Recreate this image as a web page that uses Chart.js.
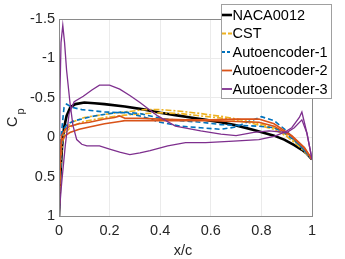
<!DOCTYPE html>
<html>
<head>
<meta charset="utf-8">
<script src="https://cdn.jsdelivr.net/npm/chart.js@4"></script>
<style>
  html, body { margin: 0; padding: 0; background: #fff; }
  #wrap { width: 345px; height: 259px; }
</style>
</head>
<body>
<div id="wrap"><canvas id="cpChart" width="345" height="259"></canvas></div>
<script>
// Cp distribution, values

const xTicks = [0, 0.2, 0.4, 0.6, 0.8, 1];
const xTickLabels = ['0', '0.2', '0.4', '0.6', '0.8', '1'];
const yTicks = [-1.5, -1, -0.5, 0, 0.5, 1];
const yTickLabels = ['-1.5', '-1', '-0.5', '0', '0.5', '1'];

const seriesNames = ['NACA0012', 'CST', 'Autoencoder-1', 'Autoencoder-2', 'Autoencoder-3'];

// NACA0012 (upper and lower coincide)
const nacaX  = [0, 0.005, 0.012, 0.02, 0.03, 0.045, 0.065, 0.1, 0.14, 0.18, 0.26, 0.34, 0.4, 0.46, 0.52, 0.58, 0.64, 0.7, 0.77, 0.85, 0.89, 0.93, 0.96, 0.98, 1];
const nacaCp = [1, 0.5, 0.12, -0.12, -0.27, -0.38, -0.42, -0.44, -0.43, -0.42, -0.39, -0.35, -0.31, -0.28, -0.25, -0.22, -0.19, -0.15, -0.09, -0.02, 0.03, 0.1, 0.16, 0.21, 0.28];

// CST
const cstX       = [0, 0.005, 0.012, 0.024, 0.05, 0.1, 0.18, 0.26, 0.34, 0.4, 0.48, 0.56, 0.65, 0.72, 0.77, 0.85, 0.9, 0.95, 1];
const cstCpUpper = [1, 0.4, 0.05, -0.1, -0.19, -0.25, -0.29, -0.32, -0.35, -0.35, -0.33, -0.3, -0.26, -0.22, -0.19, -0.12, -0.03, 0.1, 0.28];
const cstCpLower = [1, 0.4, 0.08, -0.05, -0.14, -0.2, -0.25, -0.28, -0.3, -0.31, -0.3, -0.27, -0.24, -0.2, -0.17, -0.1, -0.01, 0.12, 0.28];

// Autoencoder-1
const ae1XUpper  = [0, 0.008, 0.02, 0.03, 0.05, 0.09, 0.18, 0.26, 0.32, 0.4, 0.48, 0.56, 0.64, 0.7, 0.75, 0.8, 0.85, 0.9, 0.93, 0.96, 1];
const ae1CpUpper = [1, 0.0, -0.38, -0.42, -0.38, -0.35, -0.32, -0.31, -0.27, -0.19, -0.14, -0.12, -0.1, -0.13, -0.2, -0.26, -0.21, -0.08, 0.03, 0.13, 0.28];
const ae1XLower  = [0, 0.008, 0.016, 0.035, 0.063, 0.1, 0.14, 0.2, 0.25, 0.32, 0.4, 0.48, 0.56, 0.64, 0.7, 0.79, 0.85, 0.89, 0.93, 0.96, 1];
const ae1CpLower = [1, 0.2, -0.1, -0.17, -0.21, -0.24, -0.27, -0.3, -0.32, -0.3, -0.24, -0.21, -0.19, -0.16, -0.15, -0.14, -0.12, -0.06, 0.04, 0.13, 0.28];

// Autoencoder-2
const ae2X       = [0, 0.005, 0.01, 0.025, 0.043, 0.08, 0.12, 0.18, 0.22, 0.24, 0.26, 0.32, 0.4, 0.5, 0.6, 0.7, 0.79, 0.85, 0.92, 0.97, 1];
const ae2CpUpper = [1, 0.3, -0.02, -0.1, -0.14, -0.17, -0.19, -0.23, -0.25, -0.27, -0.24, -0.24, -0.23, -0.22, -0.22, -0.23, -0.23, -0.17, -0.02, 0.13, 0.28];
const ae2CpLower = [1, 0.3, 0.05, -0.02, -0.06, -0.1, -0.13, -0.17, -0.19, -0.2, -0.21, -0.21, -0.21, -0.21, -0.21, -0.2, -0.19, -0.14, -0.01, 0.14, 0.28];

// Autoencoder-3
const ae3XSpike  = [0, 0.004, 0.008, 0.015, 0.022, 0.03, 0.043, 0.055, 0.07, 0.09, 0.11, 0.16, 0.2, 0.24, 0.28, 0.32, 0.36, 0.43, 0.5, 0.58, 0.69, 0.79, 0.85, 0.89, 0.92, 0.95, 0.96, 0.98, 1];
const ae3CpSpike = [1, -0.6, -1.2, -1.42, -1.2, -0.85, -0.45, -0.15, 0.03, 0.09, 0.11, 0.11, 0.15, 0.19, 0.22, 0.2, 0.17, 0.11, 0.07, 0.07, 0.05, 0.03, -0.01, -0.06, -0.12, -0.25, -0.32, -0.05, 0.28];
const ae3XHump   = [0, 0.01, 0.025, 0.04, 0.06, 0.096, 0.13, 0.16, 0.2, 0.24, 0.28, 0.32, 0.39, 0.46, 0.56, 0.64, 0.7, 0.77, 0.83, 0.9, 0.93, 0.96, 0.98, 1];
const ae3CpHump  = [1, 0.6, 0.1, -0.3, -0.45, -0.52, -0.6, -0.66, -0.66, -0.61, -0.53, -0.44, -0.27, -0.14, -0.08, -0.04, -0.02, -0.06, -0.08, -0.06, -0.12, -0.22, -0.05, 0.28];

const FONT = '"Liberation Sans", Arial, Helvetica, sans-serif';
const colors = ['#000000', '#EDB120', '#0072BD', '#D95319', '#7E2F8E'];
const widths = [2.6, 1.6, 1.6, 1.6, 1.3];
const dashes = [[], [6, 2, 2, 2], [5, 3], [], []];

function pts(xs, ys) {
    return xs.map((x, i) => ({ x: x, y: ys[i] }));
}

function curve(idx, xs, ys) {
    return {
        label: seriesNames[idx],
        data: pts(xs, ys),
        showLine: true,
        borderColor: colors[idx],
        backgroundColor: colors[idx],
        borderWidth: widths[idx],
        borderDash: dashes[idx],
        pointRadius: 0,
        tension: 0,
        fill: false,
        order: 5 - idx // later series on top, like the original plot
    };
}

// box, titles and legend drawn on top of the chart area
const decorPlugin = {
    id: 'decor',
    afterDatasetsDraw(chart) {
        const ctx = chart.ctx;
        const a = chart.chartArea;
        ctx.save();
        ctx.strokeStyle = '#8a8a8a';
        ctx.lineWidth = 1;
        ctx.strokeRect(Math.round(a.left) + 0.5, Math.round(a.top) + 0.5,
            Math.round(a.right - a.left), Math.round(a.bottom - a.top));
        ctx.restore();
    },
    afterDraw(chart) {
        const ctx = chart.ctx;
        ctx.save();
        ctx.fillStyle = '#262626';

        // x title
        ctx.font = '14.5px ' + FONT;
        ctx.textAlign = 'center';
        ctx.textBaseline = 'alphabetic';
        ctx.fillText('x/c', 183, 255);

        // y title C_p, rotated
        ctx.translate(17, 127);
        ctx.rotate(-Math.PI / 2);
        ctx.textAlign = 'left';
        ctx.font = '14.5px ' + FONT;
        ctx.fillText('C', 0, 0);
        ctx.font = '11px ' + FONT;
        ctx.fillText('p', 12.5, 6.7);
        ctx.restore();

        // legend
        ctx.save();
        const lx = 221, ly = 4, lw = 110, lh = 94;
        ctx.fillStyle = '#ffffff';
        ctx.fillRect(lx, ly, lw, lh);
        ctx.strokeStyle = '#a0a0a0';
        ctx.lineWidth = 1;
        ctx.strokeRect(lx + 0.5, ly + 0.5, lw, lh);
        ctx.font = '14.5px ' + FONT;
        ctx.textAlign = 'left';
        ctx.textBaseline = 'middle';
        seriesNames.forEach((name, i) => {
            const y = 15 + i * 18.5;
            ctx.beginPath();
            ctx.strokeStyle = colors[i];
            ctx.lineWidth = i === 0 ? 2.6 : 1.8;
            ctx.setLineDash(i === 1 ? [4, 2] : (i === 2 ? [3, 2] : []));
            ctx.moveTo(222, y);
            ctx.lineTo(232, y);
            ctx.stroke();
            ctx.setLineDash([]);
            ctx.fillStyle = '#000000';
            ctx.fillText(name, 232.5, y + 0.5);
        });
        ctx.restore();
    }
};

document.addEventListener('DOMContentLoaded', function () {
    const ctx = document.getElementById('cpChart').getContext('2d');

    new Chart(ctx, {
        type: 'scatter',
        data: {
            datasets: [
                curve(0, nacaX, nacaCp),
                curve(1, cstX, cstCpUpper),
                curve(1, cstX, cstCpLower),
                curve(2, ae1XUpper, ae1CpUpper),
                curve(2, ae1XLower, ae1CpLower),
                curve(3, ae2X, ae2CpUpper),
                curve(3, ae2X, ae2CpLower),
                curve(4, ae3XSpike, ae3CpSpike),
                curve(4, ae3XHump, ae3CpHump)
            ]
        },
        options: {
            responsive: false,
            animation: false,
            devicePixelRatio: 1,
            layout: { padding: { left: 0, right: 33, top: 19, bottom: 0 } },
            plugins: {
                legend: { display: false },
                tooltip: { enabled: false }
            },
            scales: {
                x: {
                    type: 'linear',
                    min: 0,
                    max: 1,
                    afterBuildTicks: (scale) => { scale.ticks = xTicks.map(v => ({ value: v })); },
                    afterFit: (scale) => { scale.height = 43; },
                    grid: { color: '#ebebeb', tickLength: 0 },
                    border: { display: false },
                    ticks: {
                        padding: 6,
                        maxRotation: 0,
                        color: '#262626',
                        font: { family: FONT, size: 14.5 },
                        callback: (val) => xTickLabels[xTicks.indexOf(val)]
                    }
                },
                y: {
                    type: 'linear',
                    reverse: true,
                    min: -1.5,
                    max: 1,
                    afterBuildTicks: (scale) => { scale.ticks = yTicks.map(v => ({ value: v })); },
                    afterFit: (scale) => { scale.width = 59; },
                    grid: { color: '#ebebeb', tickLength: 0 },
                    border: { display: false },
                    ticks: {
                        padding: 4,
                        color: '#262626',
                        font: { family: FONT, size: 14.5 },
                        callback: (val) => yTickLabels[yTicks.indexOf(val)]
                    }
                }
            }
        },
        plugins: [decorPlugin]
    });
});
</script>
</body>
</html>
